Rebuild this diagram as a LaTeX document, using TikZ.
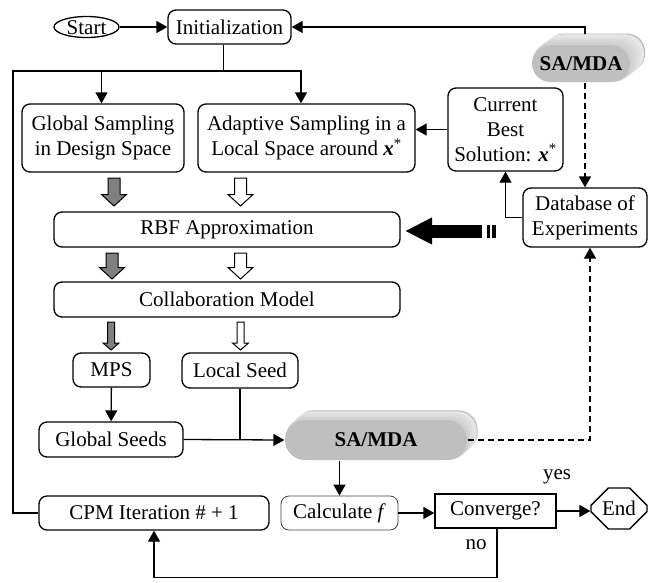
\documentclass[tikz,border=0pt]{standalone}
\usepackage{fontspec}
\setmainfont{Liberation Serif}
\usetikzlibrary{arrows.meta,positioning,shapes.geometric,shapes.misc,calc,backgrounds}

\tikzset{
  box/.style={draw, rounded corners=8pt, line width=1.3pt, align=center, inner sep=0pt},
  flatbox/.style={draw, line width=1.3pt, align=center, inner sep=0pt},
  pill/.style={rounded rectangle, fill=gray!50, inner sep=0pt, font=\fontsize{21}{25}\selectfont\bfseries},
  dashpat/.style={dash pattern=on 6pt off 4pt}
}
% block arrow: x, top, bottom, shaft half width, head half width, fill
\newcommand{\blockarrow}[6]{%
  \filldraw[fill=#6, line width=1pt] ({#1-#4},#2) -- ({#1+#4},#2) -- ({#1+#4},{#3-#5+1}) --
    ({#1+#5},{#3-#5+1}) -- (#1,#3) -- ({#1-#5},{#3-#5+1}) -- ({#1-#4},{#3-#5+1}) -- cycle;}

\begin{document}
\begin{tikzpicture}[x=1pt,y=-1pt,font=\fontsize{21}{25}\selectfont,
    line width=1.3pt, >={Triangle[length=11pt,width=12pt]}]
\useasboundingbox (0,0) rectangle (648,582);

% top row
\node[ellipse, draw, minimum width=65pt, minimum height=21pt, inner sep=0pt,
  text height=14pt, text depth=0pt] (start) at (86.5,27) {Start};
\node[box, minimum width=123pt, minimum height=34pt] (init) at (229.5,27) {Initialization};
\node[pill, minimum width=98pt, minimum height=37pt] (sa1) at (581,63.5) {SA/MDA};

% sampling
\node[box, minimum width=162pt, minimum height=68pt] (gsamp) at (103,138)
  {Global Sampling\\in Design Space};
\node[box, minimum width=217pt, minimum height=68pt] (asamp) at (306.5,138)
  {Adaptive Sampling in a\\Local Space around \textbf{\textit{x}}\textsuperscript{*}};
\node[box, minimum width=115pt, minimum height=83pt] (best) at (505.5,129.5)
  {Current\\Best\\Solution: \textbf{\textit{x}}\textsuperscript{*}};
\node[box, minimum width=124pt, minimum height=59pt] (db) at (585,217.5)
  {Database of\\Experiments};

% models
\node[box, minimum width=346pt, minimum height=35pt] (rbf) at (227,229.5) {RBF Approximation};
\node[box, minimum width=346pt, minimum height=35pt] (collab) at (227,299.5) {Collaboration Model};
\node[box, minimum width=77pt, minimum height=34pt] (mps) at (111.5,370) {MPS};
\node[box, minimum width=116pt, minimum height=35pt] (lseed) at (240,370.5) {Local Seed};
\node[box, minimum width=144pt, minimum height=35pt] (gseeds) at (111,439.5) {Global Seeds};
\node[pill, minimum width=182pt, minimum height=40pt] (sa2) at (376,440) {SA/MDA};

% bottom row
\node[box, minimum width=230pt, minimum height=34pt] (cpm) at (154,513) {CPM Iteration \# + 1};
\node[box, draw=black!75, line width=0.8pt, minimum width=117pt, minimum height=34pt] (calc) at (339.5,513)
  {Calculate \textit{f}};
\node[flatbox, minimum width=121pt, minimum height=34pt] (conv) at (495.5,511) {Converge?};
\node[chamfered rectangle, chamfered rectangle xsep=10pt, chamfered rectangle ysep=10pt,
  draw, minimum width=56pt, minimum height=41pt, inner sep=0pt] (endn) at (619,508.5) {End};
\node (yes) at (557,477) {yes};
\node (no) at (476,545) {no};

% block arrows
\blockarrow{114}{178}{206}{6}{12.5}{gray}
\blockarrow{240.5}{178}{206}{6}{12.5}{white}
\blockarrow{112}{253}{279}{6}{12.5}{gray}
\blockarrow{240.5}{253}{279}{6}{12.5}{white}
\blockarrow{111}{322}{350}{3.5}{8}{gray}
\blockarrow{240.5}{322}{350}{3.5}{8}{white}

% pill depth
\begin{scope}[on background layer]
\foreach \i in {12,...,1}{
  \pgfmathsetmacro\tone{\i==12 ? 55 : 15+2*(12-\i)}
  \fill[gray!\tone, rounded corners=18pt]
    ($(sa1.west |- sa1.south)+(1.2*\i,-0.9*\i)$) rectangle ($(sa1.east |- sa1.north)+(1.2*\i,-0.9*\i)$);
}
\foreach \i in {10,...,1}{
  \pgfmathsetmacro\tone{\i==10 ? 55 : 15+2.4*(10-\i)}
  \fill[gray!\tone, rounded corners=19.5pt]
    ($(sa2.west |- sa2.south)+(\i,-0.9*\i)$) rectangle ($(sa2.east |- sa2.north)+(\i,-0.9*\i)$);
}
\end{scope}

% connectors
\coordinate (loop) at (13,71);
\draw[->] (start) -- (init);
\draw[->] ($(sa1.north -| db.north)+(0,-10)$) |- (init.east);
\draw ([xshift=-6pt]init.south) -- ([xshift=-6pt]init.south |- loop);
\draw[->] (cpm.west) -| (loop) -| ([xshift=-5.5pt]asamp.north);
\draw[->] ([xshift=-1.5pt]gsamp.north |- loop) -- ([xshift=-1.5pt]gsamp.north);
\draw[->] (best.west) -- (best.west -| asamp.east);
\draw[->] (db.west) -| (best.south);
\draw[->, dashpat] (sa1.south -| db.north) -- (db.north);
\draw[->] (mps) -- (gseeds);
\draw[->] (gseeds.east) -- (sa2.west);
\draw (lseed.south) -- (lseed.south |- gseeds.east);
\draw[->, dashpat] (sa2.east) -| ([xshift=5pt]db.south);
\draw[->] (calc.north |- sa2.south) -- (calc.north);
\draw[->] (calc.east) -- (calc.east -| conv.west);
\draw[->] (conv.east) -- (conv.east -| endn.west);
\draw[->] ([xshift=1.5pt]conv.south) -- ++(0,49) -| (cpm.south);

% big arrow into the approximation
\coordinate (bigtail) at (482,231);
\coordinate (bigtip) at (405,231);
\draw[line width=13pt, -{Triangle[length=27pt,width=25pt]}] (bigtail) -- (bigtip);
\fill (487,224.5) rectangle (489.5,237.5);
\fill (491.5,224.5) rectangle (495.5,237.5);
\end{tikzpicture}
\end{document}
